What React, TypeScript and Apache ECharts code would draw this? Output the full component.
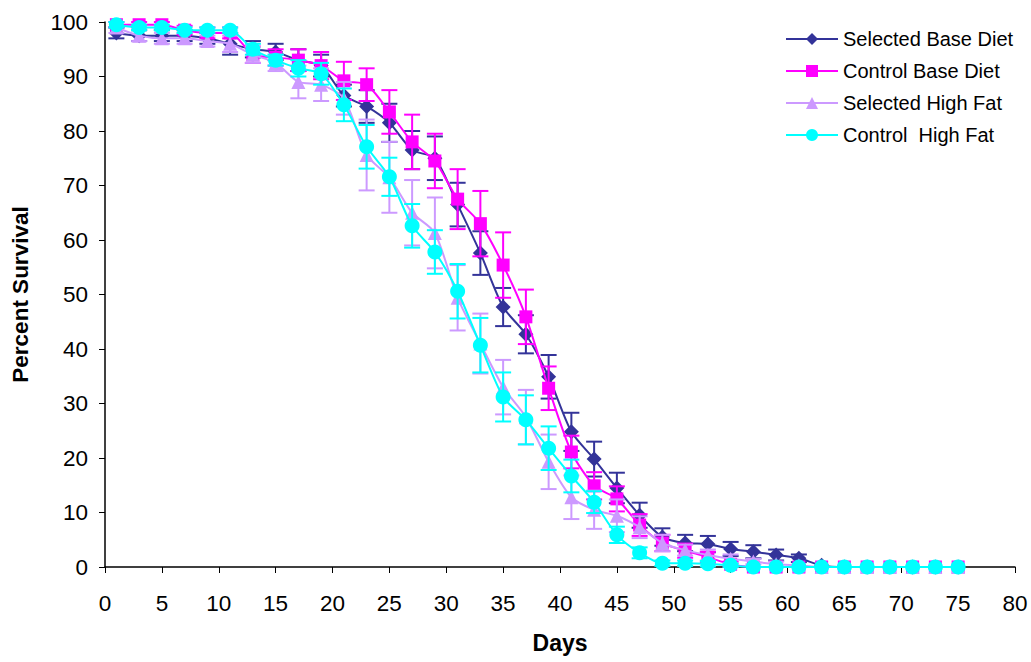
import React, { useEffect, useRef } from "react";
import * as echarts from "echarts";

const days = [1, 3, 5, 7, 9, 11, 13, 15, 17, 19, 21, 23, 25, 27, 29, 31, 33, 35, 37, 39, 41, 43, 45, 47, 49, 51, 53, 55, 57, 59, 61, 63, 65, 67, 69, 71, 73, 75];

const selectedBase = [98, 97.5, 97.5, 97.5, 97, 96, 95, 94.5, 93, 92, 86.5, 84.5, 81.5, 76.5, 75, 66.5, 57.6, 47.7, 42.7, 34.9, 24.8, 19.8, 14.5, 9.5, 5.5, 4.4, 4.2, 3.3, 2.8, 2.2, 1.6, 0.3, 0, 0, 0, 0, 0, 0];
const selectedBaseErr = [1, 1, 1, 1, 1, 2, 1.5, 1.5, 2, 2, 2, 3, 3.5, 3.5, 4, 4, 4, 3.5, 3.5, 4, 3.5, 3.2, 2.8, 2.3, 1.6, 1.5, 1.5, 1.3, 1.2, 1, 0.7, 0, 0, 0, 0, 0, 0, 0];

const controlBase = [99.5, 99.5, 99.5, 98.5, 98, 98, 94, 93.5, 93, 92, 89.2, 88.5, 83.5, 78, 74.5, 67.5, 63, 55.4, 45.9, 32.8, 21.1, 14.9, 12.5, 7.7, 4.4, 3, 1.8, 0.5, 0, 0, 0, 0, 0, 0, 0, 0, 0, 0];
const controlBaseErr = [0.5, 0.5, 0.5, 0.8, 1, 1, 1.5, 1.5, 2, 2.5, 3.5, 3, 4, 5, 5, 5.5, 6, 6, 5, 4, 3, 2.5, 2.3, 2, 1.5, 1.3, 1, 0.5, 0, 0, 0, 0, 0, 0, 0, 0, 0, 0];

const selectedHighFat = [99, 97.5, 97, 97, 96.5, 96, 94, 92.5, 89, 88.5, 86, 75.6, 71.5, 65, 61.3, 49.4, 41, 33, 27.5, 19.3, 12.8, 10.5, 9.4, 7.3, 4.4, 3.1, 2.2, 1.5, 1, 0.5, 0.3, 0, 0, 0, 0, 0, 0, 0];
const selectedHighFatErr = [1, 1, 1, 1, 1, 1.5, 1.5, 1.5, 3, 3, 3, 6.5, 6.5, 6, 6.5, 6, 5.5, 5, 5, 5, 4, 3.5, 3, 2, 1.5, 1, 1, 0.8, 0.5, 0.5, 0, 0, 0, 0, 0, 0, 0, 0];

const controlHighFat = [99.5, 99, 99, 98.5, 98.5, 98.5, 95, 93, 91.5, 90.5, 84.8, 77.1, 71.6, 62.6, 57.8, 50.6, 40.7, 31.2, 27, 21.8, 16.7, 11.9, 5.9, 2.6, 0.7, 0.7, 0.6, 0.3, 0, 0, 0, 0, 0, 0, 0, 0, 0, 0];
const controlHighFatErr = [0.5, 0.5, 0.5, 0.5, 0.5, 0.5, 1, 1, 1.5, 2, 3, 4, 3.5, 4, 4, 5, 5, 4.5, 4.5, 4, 3, 2, 1.5, 1, 0.5, 0.5, 0.5, 0.3, 0, 0, 0, 0, 0, 0, 0, 0, 0, 0];

const seriesDefs = [
  { name: "Selected Base Diet", values: selectedBase, errs: selectedBaseErr, color: "#333399", symbol: "diamond", size: 15 },
  { name: "Control Base Diet", values: controlBase, errs: controlBaseErr, color: "#FF00FF", symbol: "rect", size: 13 },
  { name: "Selected High Fat", values: selectedHighFat, errs: selectedHighFatErr, color: "#CC99FF", symbol: "triangle", size: 14 },
  { name: "Control  High Fat", values: controlHighFat, errs: controlHighFatErr, color: "#00FFFF", symbol: "circle", size: 15 },
];

const FONT = "Liberation Sans, Arial, sans-serif";

export default function App() {
  const ref = useRef<HTMLDivElement>(null);
  useEffect(() => {
    document.body.style.margin = "0";
    if (!ref.current) return;
    const chart = echarts.init(ref.current, null, { renderer: "svg" });

    const series: any[] = [];
    seriesDefs.forEach((s, si) => {
      series.push({
        type: "custom",
        name: s.name + " err",
        z: 2 + si * 2,
        silent: true,
        data: days.map((d, i) => [d, s.values[i], s.errs[i]]),
        renderItem: (params: any, api: any) => {
          const x = api.value(0);
          const y = api.value(1);
          const e = api.value(2);
          if (!e) return { type: "group", children: [] };
          const top = api.coord([x, Math.min(100, y + e)]);
          const bot = api.coord([x, Math.max(0, y - e)]);
          const hw = 8;
          const style = { stroke: s.color, lineWidth: 2 };
          return {
            type: "group",
            children: [
              { type: "line", shape: { x1: top[0], y1: top[1], x2: bot[0], y2: bot[1] }, style },
              { type: "line", shape: { x1: top[0] - hw, y1: top[1], x2: top[0] + hw, y2: top[1] }, style },
              { type: "line", shape: { x1: bot[0] - hw, y1: bot[1], x2: bot[0] + hw, y2: bot[1] }, style },
            ],
          };
        },
      });
      series.push({
        type: "line",
        name: s.name,
        z: 3 + si * 2,
        data: days.map((d, i) => [d, s.values[i]]),
        smooth: 0.25,
        symbol: s.symbol,
        symbolSize: s.size,
        showAllSymbol: true,
        lineStyle: { color: s.color, width: 2 },
        itemStyle: { color: s.color },
      });
    });

    chart.setOption({
      animation: false,
      backgroundColor: "#ffffff",
      grid: { left: 105, right: 16, top: 22, bottom: 95, containLabel: false },
      legend: {
        data: seriesDefs.map((s) => s.name),
        orient: "vertical",
        left: 780,
        top: 24,
        itemWidth: 52,
        itemHeight: 15,
        itemGap: 12,
        textStyle: { fontFamily: FONT, fontSize: 20, lineHeight: 20, color: "#000" },
      },
      xAxis: {
        type: "value",
        min: 0,
        max: 80,
        interval: 5,
        name: "Days",
        nameLocation: "middle",
        nameGap: 64,
        nameTextStyle: { fontFamily: FONT, fontSize: 23, fontWeight: "bold", color: "#000" },
        axisLine: { lineStyle: { color: "#000", width: 1.5 } },
        axisTick: { show: true, length: 6, lineStyle: { color: "#000" } },
        axisLabel: { fontFamily: FONT, fontSize: 22.5, color: "#000", margin: 25 },
        splitLine: { show: false },
      },
      yAxis: {
        type: "value",
        min: 0,
        max: 100,
        interval: 10,
        name: "Percent Survival",
        nameLocation: "middle",
        nameGap: 73,
        nameTextStyle: { fontFamily: FONT, fontSize: 22.5, fontWeight: "bold", color: "#000" },
        axisLine: { show: true, lineStyle: { color: "#000", width: 1.5 } },
        axisTick: { show: true, length: 6, lineStyle: { color: "#000" } },
        axisLabel: { fontFamily: FONT, fontSize: 22.5, color: "#000", margin: 17 },
        splitLine: { show: false },
      },
      series,
    });
    return () => chart.dispose();
  }, []);
  return <div ref={ref} style={{ width: 1031, height: 662 }} />;
}
